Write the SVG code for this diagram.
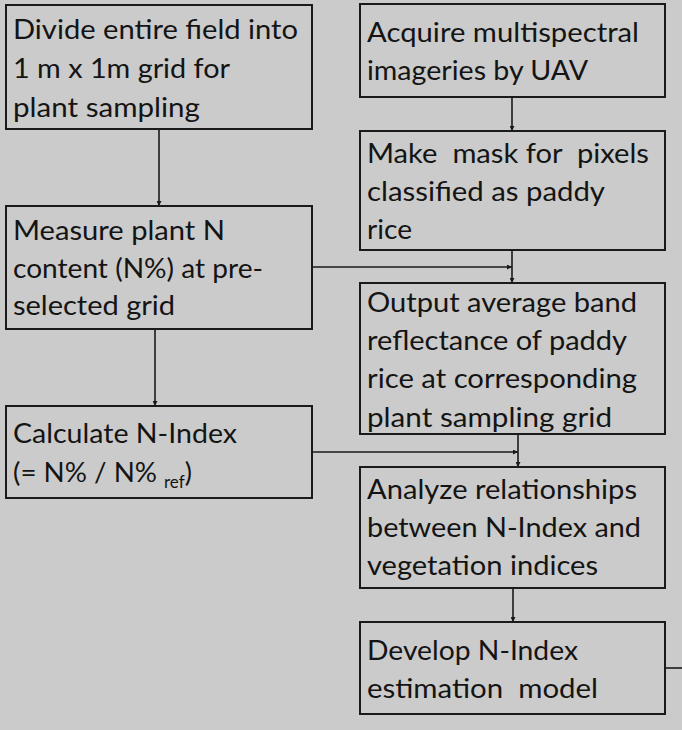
<svg xmlns="http://www.w3.org/2000/svg" width="682" height="730" viewBox="0 0 682 730">
<defs>
<style>
.box{fill:#cbcbcb;stroke:#1a1a1a;stroke-width:2}
.t{font-family:Lato,"Liberation Sans",sans-serif;font-size:27px;fill:#141414}
.sub{font-family:Lato,"Liberation Sans",sans-serif;font-size:17px;fill:#141414}
.c{fill:none;stroke:#1a1a1a;stroke-width:1.6}
</style>
<marker id="ah" viewBox="0 0 10 10" refX="10" refY="5" markerWidth="6" markerHeight="5" markerUnits="userSpaceOnUse" orient="auto">
<path d="M0,0 L10,5 L0,10 z" fill="#1a1a1a"/>
</marker>
</defs>
<rect width="682" height="730" fill="#cbcbcb"/>
<g id="connectors">
<path class="c" d="M159,129 V206" marker-end="url(#ah)"/>
<path class="c" d="M512,97 V131" marker-end="url(#ah)"/>
<path class="c" d="M512,250 V283" marker-end="url(#ah)"/>
<path class="c" d="M312,267 H512" marker-end="url(#ah)"/>
<path class="c" d="M155,329 V406" marker-end="url(#ah)"/>
<path class="c" d="M518,434 V467" marker-end="url(#ah)"/>
<path class="c" d="M312,452 H518" marker-end="url(#ah)"/>
<path class="c" d="M513,588 V622" marker-end="url(#ah)"/>
<path class="c" d="M665,668 H682"/>
</g>
<g id="divide">
<rect class="box" x="6" y="5" width="306" height="124"/>
<text class="t" x="13" y="39" textLength="285" lengthAdjust="spacingAndGlyphs">Divide entire field into</text>
<text class="t" x="13" y="78" textLength="217" lengthAdjust="spacingAndGlyphs">1 m x 1m grid for</text>
<text class="t" x="13" y="117" textLength="187" lengthAdjust="spacingAndGlyphs">plant sampling</text>
</g>
<g id="measure">
<rect class="box" x="6" y="206" width="306" height="123"/>
<text class="t" x="13" y="240" textLength="212" lengthAdjust="spacingAndGlyphs">Measure plant N</text>
<text class="t" x="13" y="278" textLength="250" lengthAdjust="spacingAndGlyphs">content (N%) at pre-</text>
<text class="t" x="13" y="315" textLength="162" lengthAdjust="spacingAndGlyphs">selected grid</text>
</g>
<g id="calculate">
<rect class="box" x="6" y="406" width="306" height="92"/>
<text class="t" x="13" y="443" textLength="224" lengthAdjust="spacingAndGlyphs">Calculate N-Index</text>
<text class="t" x="13" y="482"><tspan textLength="144" lengthAdjust="spacingAndGlyphs">(= N% / N%</tspan><tspan class="sub" x="164" y="488">ref</tspan><tspan y="482">)</tspan></text>
</g>
<g id="acquire">
<rect class="box" x="360" y="4" width="305" height="93"/>
<text class="t" x="367" y="42" textLength="272" lengthAdjust="spacingAndGlyphs">Acquire multispectral</text>
<text class="t" x="367" y="80" textLength="221" lengthAdjust="spacingAndGlyphs">imageries by UAV</text>
</g>
<g id="mask">
<rect class="box" x="360" y="131" width="305" height="119"/>
<text class="t" x="367" y="163" textLength="282" lengthAdjust="spacingAndGlyphs" xml:space="preserve">Make  mask for  pixels</text>
<text class="t" x="367" y="201" textLength="238" lengthAdjust="spacingAndGlyphs">classified as paddy</text>
<text class="t" x="367" y="239" textLength="45" lengthAdjust="spacingAndGlyphs">rice</text>
</g>
<g id="output">
<rect class="box" x="360" y="283" width="305" height="151"/>
<text class="t" x="367" y="312" textLength="270" lengthAdjust="spacingAndGlyphs">Output average band</text>
<text class="t" x="367" y="350" textLength="260" lengthAdjust="spacingAndGlyphs">reflectance of paddy</text>
<text class="t" x="367" y="388" textLength="270" lengthAdjust="spacingAndGlyphs">rice at corresponding</text>
<text class="t" x="367" y="427" textLength="245" lengthAdjust="spacingAndGlyphs">plant sampling grid</text>
</g>
<g id="analyze">
<rect class="box" x="360" y="467" width="305" height="121"/>
<text class="t" x="367" y="499" textLength="270" lengthAdjust="spacingAndGlyphs">Analyze relationships</text>
<text class="t" x="367" y="537" textLength="274" lengthAdjust="spacingAndGlyphs">between N-Index and</text>
<text class="t" x="367" y="575" textLength="231" lengthAdjust="spacingAndGlyphs">vegetation indices</text>
</g>
<g id="develop">
<rect class="box" x="360" y="622" width="305" height="92"/>
<text class="t" x="367" y="660" textLength="211" lengthAdjust="spacingAndGlyphs">Develop N-Index</text>
<text class="t" x="367" y="698" textLength="231" lengthAdjust="spacingAndGlyphs" xml:space="preserve">estimation  model</text>
</g>
</svg>
